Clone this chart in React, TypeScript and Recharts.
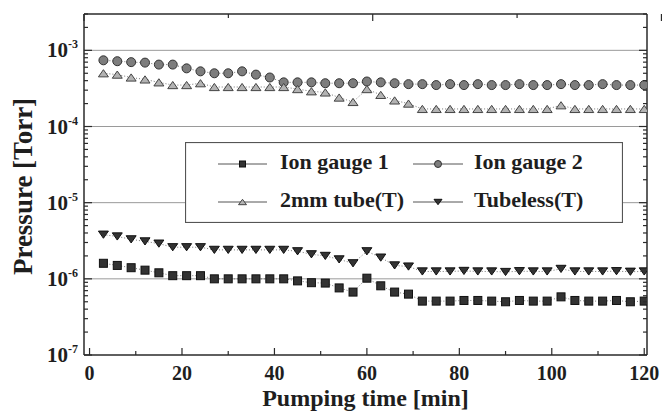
import React from 'react';
import { LineChart, Line, XAxis, YAxis, ReferenceLine, Legend } from 'recharts';

// pumping time [min], one reading every 3 min
const TIMES = [
  3, 6, 9, 12, 15, 18, 21, 24, 27, 30, 33, 36, 39, 42, 45, 48, 51, 54, 57, 60,
  63, 66, 69, 72, 75, 78, 81, 84, 87, 90, 93, 96, 99, 102, 105, 108, 111, 114, 117, 120,
];

// pressure [Torr]
const ION_GAUGE_1 = [
  1.6e-6, 1.5e-6, 1.4e-6, 1.3e-6, 1.2e-6, 1.1e-6, 1.1e-6, 1.1e-6, 1.0e-6, 1.0e-6,
  1.0e-6, 1.0e-6, 1.0e-6, 1.0e-6, 9.4e-7, 8.9e-7, 8.8e-7, 7.6e-7, 6.7e-7, 1.02e-6,
  8.1e-7, 6.7e-7, 6.3e-7, 5.1e-7, 5.1e-7, 5.1e-7, 5.2e-7, 5.2e-7, 5.1e-7, 5.0e-7,
  5.2e-7, 5.1e-7, 5.1e-7, 5.8e-7, 5.2e-7, 5.1e-7, 5.1e-7, 5.2e-7, 5.0e-7, 5.1e-7,
];
const ION_GAUGE_2 = [
  7.4e-4, 7.2e-4, 7.0e-4, 6.9e-4, 6.5e-4, 6.5e-4, 5.8e-4, 5.3e-4, 5.0e-4, 5.0e-4,
  5.3e-4, 4.8e-4, 4.4e-4, 3.8e-4, 3.8e-4, 3.8e-4, 3.7e-4, 3.7e-4, 3.7e-4, 3.9e-4,
  3.8e-4, 3.7e-4, 3.6e-4, 3.6e-4, 3.5e-4, 3.6e-4, 3.5e-4, 3.6e-4, 3.5e-4, 3.5e-4,
  3.6e-4, 3.5e-4, 3.5e-4, 3.6e-4, 3.5e-4, 3.5e-4, 3.6e-4, 3.5e-4, 3.5e-4, 3.5e-4,
];
const TUBE_2MM = [
  5.0e-4, 4.8e-4, 4.4e-4, 4.15e-4, 3.8e-4, 3.5e-4, 3.5e-4, 3.7e-4, 3.3e-4, 3.3e-4,
  3.3e-4, 3.3e-4, 3.3e-4, 3.3e-4, 3.1e-4, 2.9e-4, 2.8e-4, 2.4e-4, 2.1e-4, 3.1e-4,
  2.6e-4, 2.2e-4, 2.0e-4, 1.7e-4, 1.7e-4, 1.7e-4, 1.7e-4, 1.7e-4, 1.7e-4, 1.7e-4,
  1.7e-4, 1.7e-4, 1.7e-4, 1.9e-4, 1.7e-4, 1.7e-4, 1.7e-4, 1.7e-4, 1.7e-4, 1.7e-4,
];
const TUBELESS = [
  3.8e-6, 3.6e-6, 3.3e-6, 3.1e-6, 2.9e-6, 2.6e-6, 2.6e-6, 2.6e-6, 2.4e-6, 2.4e-6,
  2.4e-6, 2.4e-6, 2.4e-6, 2.4e-6, 2.3e-6, 2.1e-6, 2.0e-6, 1.8e-6, 1.6e-6, 2.3e-6,
  1.9e-6, 1.5e-6, 1.45e-6, 1.25e-6, 1.25e-6, 1.25e-6, 1.27e-6, 1.25e-6, 1.25e-6, 1.23e-6,
  1.26e-6, 1.25e-6, 1.25e-6, 1.35e-6, 1.25e-6, 1.25e-6, 1.25e-6, 1.26e-6, 1.24e-6, 1.25e-6,
];

const X_TICKS = [0, 10, 20, 30, 40, 50, 60, 70, 80, 90, 100, 110, 120];
const X_LABELS = ['0', '20', '40', '60', '80', '100', '120'];
const Y_DECADES = [1e-7, 1e-6, 1e-5, 1e-4, 1e-3];
const Y_EXPONENTS = ['-7', '-6', '-5', '-4', '-3'];
const Y_GRID = [1e-6, 1e-5, 1e-4, 1e-3];
const Y_MAX = 3e-3;

const Y_TICKS = Y_DECADES.flatMap((d) =>
  [1, 2, 3, 4, 5, 6, 7, 8, 9].map((m) => m * d)
).filter((v) => v <= Y_MAX * 1.0001);

const data = TIMES.map((t, i) => ({
  t,
  ig1: ION_GAUGE_1[i],
  ig2: ION_GAUGE_2[i],
  tube: TUBE_2MM[i],
  tubeless: TUBELESS[i],
}));

const SERIES = [
  { key: 'ig1', name: 'Ion gauge 1', marker: 'square' },
  { key: 'ig2', name: 'Ion gauge 2', marker: 'circle' },
  { key: 'tube', name: '2mm tube(T)', marker: 'up' },
  { key: 'tubeless', name: 'Tubeless(T)', marker: 'down' },
];

const FONT = "'Liberation Serif', 'Times New Roman', serif";
const INK = '#1e1e1e';
const AXIS = '#2a2a2a';

const marker = (kind: string, cx: number, cy: number, s: number, key?: string) => {
  if (kind === 'square') {
    return <rect key={key} x={cx - s} y={cy - s} width={2 * s} height={2 * s} fill="#333" stroke="#111" strokeWidth={1} />;
  }
  if (kind === 'circle') {
    return <circle key={key} cx={cx} cy={cy} r={s + 0.5} fill="#7d7d7d" stroke="#333" strokeWidth={1} />;
  }
  if (kind === 'up') {
    const h = s * 1.8;
    return (
      <polygon key={key}
        points={`${cx},${cy - h / 2} ${cx - s - 1},${cy + h / 2} ${cx + s + 1},${cy + h / 2}`}
        fill="#b3b3b3" stroke="#444" strokeWidth={1} />
    );
  }
  const h = s * 1.8;
  return (
    <polygon key={key}
      points={`${cx - s - 1},${cy - h / 2} ${cx + s + 1},${cy - h / 2} ${cx},${cy + h / 2}`}
      fill="#333" stroke="#111" strokeWidth={1} />
  );
};

const dotFor = (kind: string) => (p: any) => {
  if (p.cx == null || p.cy == null) return <g key={`e-${p.index}`} />;
  return marker(kind, p.cx, p.cy, 4, `${kind}-${p.index}`);
};

const isDecade = (v: number) => Math.abs(Math.log10(v) - Math.round(Math.log10(v))) < 1e-6;

const BottomTick = (props: any) => {
  const { x, y, payload } = props;
  const v = payload.value;
  const major = v % 20 === 0;
  const label = X_LABELS[X_LABELS.indexOf(String(v))];
  return (
    <g>
      <line x1={x} y1={y} x2={x} y2={y - (major ? 7 : 4)} stroke={AXIS} strokeWidth={1.2} />
      {major && (
        <text x={x} y={y + 25} textAnchor="middle" fontFamily={FONT} fontWeight={700} fontSize={20} fill={INK}>
          {label}
        </text>
      )}
    </g>
  );
};

const TopTick = (props: any) => {
  const { x, y, payload } = props;
  const major = payload.value % 20 === 0;
  return <line x1={x} y1={y} x2={x} y2={y + (major ? 7 : 4)} stroke={AXIS} strokeWidth={1.2} />;
};

const LeftTick = (props: any) => {
  const { x, y, payload } = props;
  const v = payload.value;
  const major = isDecade(v);
  const idx = Y_DECADES.findIndex((d) => Math.abs(d - v) / d < 1e-6);
  return (
    <g>
      <line x1={x} y1={y} x2={x + (major ? 8 : 4)} y2={y} stroke={AXIS} strokeWidth={1.2} />
      {major && idx >= 0 && (
        <text x={x - 6} y={y + 7} textAnchor="end" fontFamily={FONT} fontWeight={700} fontSize={21} fill={INK}>
          10
          <tspan dy={-9} fontSize={12}>{Y_EXPONENTS[idx]}</tspan>
        </text>
      )}
    </g>
  );
};

const RightTick = (props: any) => {
  const { x, y, payload } = props;
  const major = isDecade(payload.value);
  return <line x1={x} y1={y} x2={x - (major ? 8 : 4)} y2={y} stroke={AXIS} strokeWidth={1.2} />;
};

const LegendBox = () => {
  const cols = [
    { l1: 33, l2: 82, tx: 95 },
    { l1: 228, l2: 278, tx: 289 },
  ];
  const rows = [
    { my: 22, by: 27 },
    { my: 60, by: 65 },
  ];
  return (
    <svg width={438} height={81} style={{ display: 'block' }}>
      <rect x={0.5} y={0.5} width={437} height={80} fill="#fff" stroke="#555" strokeWidth={1.2} />
      {SERIES.map((s, i) => {
        const c = cols[i % 2];
        const r = rows[Math.floor(i / 2)];
        return (
          <g key={s.key}>
            <line x1={c.l1} y1={r.my} x2={c.l2} y2={r.my} stroke="#555" strokeWidth={1} />
            {marker(s.marker, (c.l1 + c.l2) / 2, r.my, 3)}
            <text x={c.tx} y={r.by} fontFamily={FONT} fontWeight={700} fontSize={22} fill={INK}>
              {s.name}
            </text>
          </g>
        );
      })}
    </svg>
  );
};

const axisLine = { stroke: AXIS, strokeWidth: 1.5 };
const titleStyle = { fontFamily: FONT, fontWeight: 700, fill: INK };

export default function App() {
  return (
    <div style={{ position: 'absolute', left: 0, top: 0, width: 662, height: 416, background: '#fff' }}>
      <LineChart width={662} height={416} data={data} margin={{ top: 0, right: 0, bottom: 0, left: 0 }}>
        <XAxis
          dataKey="t"
          type="number"
          domain={[-1.2, 120.6]}
          allowDataOverflow
          ticks={X_TICKS}
          interval={0}
          height={61}
          tickSize={0}
          tickMargin={0}
          tickLine={false}
          axisLine={axisLine}
          tick={(p: any) => <BottomTick {...p} />}
          label={{ value: 'Pumping time [min]', position: 'insideBottom', offset: 10, style: { ...titleStyle, fontSize: 24 } }}
        />
        <XAxis
          xAxisId="top"
          orientation="top"
          type="number"
          domain={[-1.2, 120.6]}
          allowDataOverflow
          ticks={X_TICKS}
          interval={0}
          height={14}
          tickSize={0}
          tickMargin={0}
          tickLine={false}
          axisLine={axisLine}
          tick={(p: any) => <TopTick {...p} />}
        />
        <YAxis
          scale="log"
          type="number"
          domain={[1e-7, Y_MAX]}
          allowDataOverflow
          ticks={Y_TICKS}
          interval={0}
          width={84}
          tickSize={0}
          tickMargin={0}
          tickLine={false}
          axisLine={axisLine}
          tick={(p: any) => <LeftTick {...p} />}
          label={{ value: 'Pressure [Torr]', angle: -90, position: 'center', dx: -20, dy: 2, style: { ...titleStyle, fontSize: 27 } }}
        />
        <YAxis
          yAxisId="right"
          orientation="right"
          scale="log"
          type="number"
          domain={[1e-7, Y_MAX]}
          allowDataOverflow
          ticks={Y_TICKS}
          interval={0}
          width={15}
          tickSize={0}
          tickMargin={0}
          tickLine={false}
          axisLine={axisLine}
          tick={(p: any) => <RightTick {...p} />}
        />
        {Y_GRID.map((v) => (
          <ReferenceLine key={v} y={v} stroke="#9a9a9a" strokeWidth={1} />
        ))}
        {SERIES.map((s) => (
          <Line
            key={s.key}
            dataKey={s.key}
            name={s.name}
            stroke="#777"
            strokeWidth={1}
            strokeDasharray="1 2"
            dot={dotFor(s.marker)}
            activeDot={false}
            isAnimationActive={false}
          />
        ))}
        <Legend
          layout="horizontal"
          verticalAlign="middle"
          align="center"
          content={() => <LegendBox />}
          wrapperStyle={{ left: 185, top: 142, width: 438, height: 81 }}
        />
      </LineChart>
    </div>
  );
}
